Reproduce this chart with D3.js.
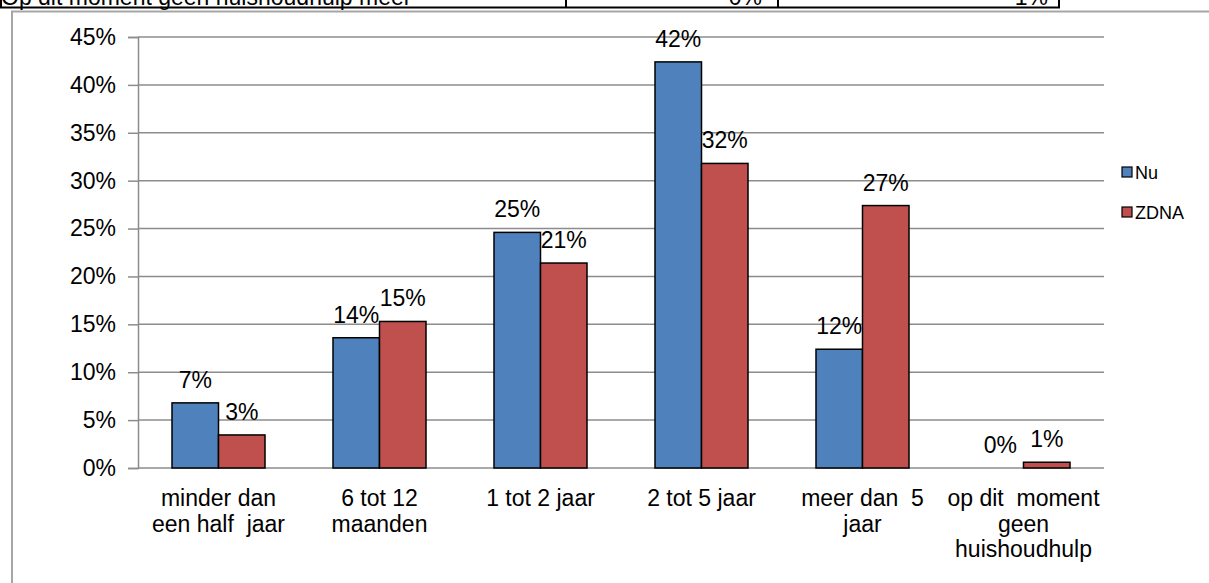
<!DOCTYPE html>
<html>
<head>
<meta charset="utf-8">
<script src="https://cdn.jsdelivr.net/npm/d3@7"></script>
<style>
  body { margin: 0; background: #fff; }
  svg { display: block; font-family: "Liberation Sans", Arial, sans-serif; }
</style>
</head>
<body>
<svg id="chart"></svg>
<script>
// data
const categories = [
  "minder dan|een half  jaar",
  "6 tot 12|maanden",
  "1 tot 2 jaar",
  "2 tot 5 jaar",
  "meer dan  5|jaar",
  "op dit  moment|geen|huishoudhulp"
];
const series = ["Nu", "ZDNA"];
const nuValues = [0.068, 0.136, 0.246, 0.424, 0.124, 0.0];
const zdnaValues = [0.0345, 0.153, 0.214, 0.318, 0.274, 0.006];
const yTicks = [0, 0.05, 0.1, 0.15, 0.2, 0.25, 0.3, 0.35, 0.4, 0.45];
// cut-off table row above the chart
const tableRow = ["Op dit moment geen huishoudhulp meer", "0%", "1%"];

const colors = { Nu: "#4f81bd", ZDNA: "#c0504d" };
const fs = 23;

const W = 1209, H = 583;
const svg = d3.select("#chart").attr("width", W).attr("height", H);

// table remnant
const tbl = svg.append("g");
tbl.append("text").attr("x", 1).attr("y", 4.5).attr("font-size", fs).text(tableRow[0]);
tbl.append("text").attr("x", 762).attr("y", 4.5).attr("font-size", fs).attr("text-anchor", "end").text(tableRow[1]);
tbl.append("text").attr("x", 1048).attr("y", 4.5).attr("font-size", fs).attr("text-anchor", "end").text(tableRow[2]);
tbl.append("line").attr("x1", 0).attr("x2", 1060).attr("y1", 7.5).attr("y2", 7.5).attr("stroke", "#000").attr("stroke-width", 2);
[1, 566, 778, 1059].forEach(function (x) {
  tbl.append("line").attr("x1", x).attr("x2", x).attr("y1", 0).attr("y2", 8).attr("stroke", "#000").attr("stroke-width", 2);
});

// chart frame
svg.append("rect")
  .attr("x", 12).attr("y", 11.5).attr("width", 1220).attr("height", 600)
  .attr("fill", "none").attr("stroke", "#a6a6a6").attr("stroke-width", 2);

const plotL = 138, plotR = 1104, plotT = 37, plotB = 468;

const x0 = d3.scaleBand().domain(categories).range([plotL, plotR]);
const groupW = 93;
const x1 = d3.scaleBand().domain(series).range([0, groupW]);
const y = d3.scaleLinear().domain([0, 0.45]).range([plotB, plotT]);
const pct = d3.format(".0%");

// gridlines
svg.append("g")
  .selectAll("line")
  .data(yTicks)
  .enter()
  .append("line")
  .attr("x1", plotL).attr("x2", plotR)
  .attr("y1", function (d) { return y(d); })
  .attr("y2", function (d) { return y(d); })
  .attr("stroke", "#8c8c8c")
  .attr("stroke-width", 1.5);

// y axis
const yAxis = svg.append("g")
  .attr("transform", "translate(" + plotL + ",0)")
  .call(d3.axisLeft(y).tickValues(yTicks).tickFormat(pct).tickSize(10).tickPadding(12));
yAxis.select(".domain").attr("stroke", "#8c8c8c").attr("stroke-width", 1.5);
yAxis.selectAll(".tick line").attr("stroke", "#8c8c8c").attr("stroke-width", 1.5);
yAxis.selectAll(".tick text").attr("font-size", fs).attr("fill", "#000")
  .attr("font-family", "Liberation Sans, Arial, sans-serif");

// bars
const rows = categories.map(function (c, i) {
  return [{ s: "Nu", v: nuValues[i] }, { s: "ZDNA", v: zdnaValues[i] }];
});
const offset = (x0.bandwidth() - groupW) / 2;

const groups = svg.append("g")
  .selectAll("g")
  .data(rows)
  .enter()
  .append("g")
  .attr("transform", function (d, i) { return "translate(" + (x0(categories[i]) + offset) + ",0)"; });

groups.selectAll("rect")
  .data(function (d) { return d.filter(function (e) { return e.v > 0; }); })
  .enter()
  .append("rect")
  .attr("x", function (d) { return x1(d.s); })
  .attr("width", x1.bandwidth())
  .attr("y", function (d) { return y(d.v); })
  .attr("height", function (d) { return plotB - y(d.v); })
  .attr("fill", function (d) { return colors[d.s]; })
  .attr("stroke", "#000")
  .attr("stroke-width", 1.5);

groups.selectAll("text")
  .data(function (d) { return d; })
  .enter()
  .append("text")
  .attr("x", function (d) { return x1(d.s) + x1.bandwidth() / 2; })
  .attr("y", function (d) { return y(d.v) - 15; })
  .attr("text-anchor", "middle")
  .attr("font-size", fs)
  .text(function (d) { return pct(d.v); });

// category labels
const catG = svg.append("g");
categories.forEach(function (c, i) {
  const t = catG.append("text")
    .attr("x", x0(c) + x0.bandwidth() / 2)
    .attr("y", 506)
    .attr("text-anchor", "middle")
    .attr("font-size", fs)
    .style("white-space", "pre");
  c.split("|").forEach(function (line, j) {
    t.append("tspan")
      .attr("x", x0(c) + x0.bandwidth() / 2)
      .attr("dy", j === 0 ? 0 : 25.5)
      .text(line);
  });
});

// legend
const legend = svg.append("g");
series.forEach(function (s, i) {
  const ly = 172 + i * 40;
  legend.append("rect")
    .attr("x", 1122).attr("y", ly - 5).attr("width", 10).attr("height", 10)
    .attr("fill", colors[s]).attr("stroke", "#000").attr("stroke-width", 1.2);
  legend.append("text")
    .attr("x", 1135).attr("y", ly + 6.5)
    .attr("font-size", 18)
    .text(s);
});
</script>
</body>
</html>
